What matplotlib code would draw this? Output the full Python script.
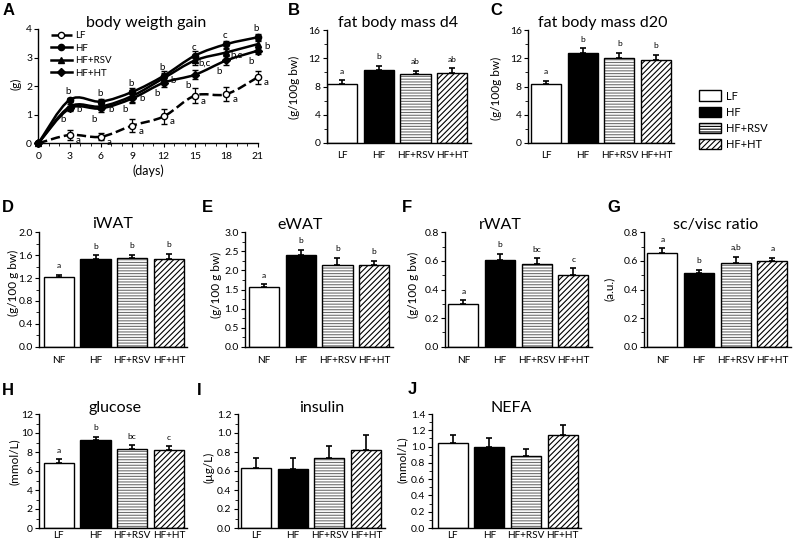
import matplotlib
matplotlib.use('Agg')
import matplotlib.pyplot as plt
import numpy as np
from matplotlib.path import Path
from matplotlib.patches import PathPatch, Patch
from matplotlib.lines import Line2D
from matplotlib.ticker import MultipleLocator, FormatStrFormatter

plt.rcParams['font.family'] = ['Lato', 'DejaVu Sans']
plt.rcParams['hatch.linewidth'] = 0.8

# ---------------- data ----------------
days = [0, 3, 6, 9, 12, 15, 18, 21]
gain_lf = [0, 0.29, 0.23, 0.62, 0.94, 1.67, 1.72, 2.31]
gain_lf_err = [0, 0.17, 0.13, 0.22, 0.26, 0.26, 0.25, 0.22]
gain_hf = [0, 1.52, 1.46, 1.80, 2.36, 3.07, 3.47, 3.71]
gain_hf_err = [0, 0.08, 0.10, 0.14, 0.16, 0.15, 0.12, 0.10]
gain_rsv = [0, 1.28, 1.29, 1.66, 2.28, 2.90, 3.18, 3.47]
gain_rsv_err = [0, 0.10, 0.12, 0.20, 0.18, 0.15, 0.13, 0.10]
gain_ht = [0, 1.22, 1.22, 1.57, 2.12, 2.40, 2.90, 3.24]
gain_ht_err = [0, 0.10, 0.12, 0.15, 0.16, 0.15, 0.15, 0.10]
let_lf = ['', 'a', 'a', 'a', 'a', 'a', 'a', 'a']
let_hf = ['', 'b', 'b', 'b', 'b', 'c', 'c', 'b']
let_rsv = ['', 'b', 'b', 'b', 'b', 'b,c', 'b,c', 'b']
let_ht = ['', 'b', 'b', 'b', 'b', 'b', 'b', 'b']

cats_lf = ['LF', 'HF', 'HF+RSV', 'HF+HT']
cats_nf = ['NF', 'HF', 'HF+RSV', 'HF+HT']

fat_d4 = [8.3, 10.4, 9.7, 9.9]
fat_d4_err = [0.6, 0.5, 0.5, 0.7]
fat_d4_let = ['a', 'b', 'ab', 'ab']
fat_d20 = [8.4, 12.8, 12.1, 11.8]
fat_d20_err = [0.4, 0.6, 0.7, 0.7]
fat_d20_let = ['a', 'b', 'b', 'b']
iwat = [1.21, 1.53, 1.55, 1.54]
iwat_err = [0.05, 0.07, 0.06, 0.08]
iwat_let = ['a', 'b', 'b', 'b']
ewat = [1.56, 2.40, 2.15, 2.13]
ewat_err = [0.08, 0.14, 0.18, 0.13]
ewat_let = ['a', 'b', 'b', 'b']
rwat = [0.30, 0.607, 0.576, 0.50]
rwat_err = [0.024, 0.042, 0.042, 0.048]
rwat_let = ['a', 'b', 'bc', 'c']
scv = [0.658, 0.518, 0.588, 0.597]
scv_err = [0.030, 0.018, 0.039, 0.026]
scv_let = ['a', 'b', 'a,b', 'a']
glucose = [6.8, 9.25, 8.35, 8.25]
glucose_err = [0.42, 0.38, 0.38, 0.35]
glucose_let = ['a', 'b', 'bc', 'c']
insulin = [0.633, 0.623, 0.742, 0.826]
insulin_err = [0.109, 0.119, 0.119, 0.154]
insulin_let = ['', '', '', '']
nefa = [1.05, 1.00, 0.888, 1.142]
nefa_err = [0.098, 0.110, 0.078, 0.127]
nefa_let = ['', '', '', '']

# ---------------- figure ----------------
W, H = 793, 543
fig = plt.figure(figsize=(W / 100, H / 100), dpi=100)

TICK_FS = 7.5
XTICK_FS = 7.2
YLAB_FS = 8.5


def ax_px(l, t, r, b):
    return fig.add_axes([l / W, 1 - b / H, (r - l) / W, (b - t) / H])


def ftext(x, y, s, **kw):
    return fig.text(x / W, 1 - y / H, s, **kw)


def panel_letter(x, y, s):
    ftext(x, y, s, fontsize=12, fontweight='bold', family=['Liberation Sans', 'DejaVu Sans'], va='baseline', ha='left')


def style_axes(ax):
    for s in ['top', 'right']:
        ax.spines[s].set_visible(False)
    for s in ['left', 'bottom']:
        ax.spines[s].set_linewidth(1.0)
    ax.tick_params(axis='y', which='major', direction='out', length=3, width=0.8, labelsize=TICK_FS, pad=1.5)
    ax.tick_params(axis='y', which='minor', direction='out', length=2, width=0.6)


# ---------------- panel A ----------------
def smooth_path(xs, ys):
    xs = np.asarray(xs, float)
    ys = np.asarray(ys, float)
    n = len(xs)
    verts = [(xs[0], ys[0])]
    codes = [Path.MOVETO]
    for i in range(n - 1):
        i0 = max(i - 1, 0)
        i3 = min(i + 2, n - 1)
        c1 = (xs[i] + (xs[i + 1] - xs[i0]) / 6, ys[i] + (ys[i + 1] - ys[i0]) / 6)
        c2 = (xs[i + 1] - (xs[i3] - xs[i]) / 6, ys[i + 1] - (ys[i3] - ys[i]) / 6)
        verts += [c1, c2, (xs[i + 1], ys[i + 1])]
        codes += [Path.CURVE4] * 3
    return Path(verts, codes)


axA = ax_px(38.3, 29, 257.7, 143.3)
style_axes(axA)
axA.set_xlim(0, 21)
axA.set_ylim(0, 4)
axA.xaxis.set_major_locator(MultipleLocator(3))
axA.xaxis.set_minor_locator(MultipleLocator(1))
axA.yaxis.set_major_locator(MultipleLocator(1))
axA.tick_params(axis='x', which='major', direction='out', length=3, width=0.8, labelsize=TICK_FS, pad=3)
axA.tick_params(axis='x', which='minor', direction='out', length=2, width=0.6)

series = [
    ('LF', gain_lf, gain_lf_err, 'o', 'white', '--', let_lf),
    ('HF', gain_hf, gain_hf_err, 'o', 'black', '-', let_hf),
    ('HF+RSV', gain_rsv, gain_rsv_err, '^', 'black', '-', let_rsv),
    ('HF+HT', gain_ht, gain_ht_err, 'D', 'black', '-', let_ht),
]
handles = []
for name, vals, errs, mk, mfc, ls, lets in series:
    pp = PathPatch(smooth_path(days, vals), fill=False, lw=1.8, ls=ls, edgecolor='black', zorder=2)
    axA.add_patch(pp)
    ms = 4.5 if mk != 'D' else 3.8
    axA.errorbar(days, vals, yerr=errs, fmt=mk, ms=ms, mfc=mfc, mec='black', mew=1.0,
                 ecolor='black', elinewidth=0.9, capsize=2, capthick=0.9, zorder=3, clip_on=False)
    handles.append(Line2D([0], [0], color='black', lw=1.8, ls=ls, marker=mk, ms=ms, mfc=mfc, mec='black'))

offsets = {'LF': (6, -4), 'HF': (-1, 6), 'HF+RSV': (7, -2), 'HF+HT': (-5, -8)}
for name, vals, errs, mk, mfc, ls, lets in series:
    dx, dy = offsets[name]
    for d, v, l in zip(days, vals, lets):
        if l:
            axA.annotate(l, (d, v), xytext=(dx, dy), textcoords='offset points',
                         ha='center', va='center', fontsize=7)

axA.legend(handles, [s[0] for s in series], loc='upper left', bbox_to_anchor=(0.03, 1.03),
           frameon=False, fontsize=7, handlelength=2.2, labelspacing=0.35, handletextpad=0.3,
           borderaxespad=0.2)
ftext(148, 171, '(days)', fontsize=9, ha='center', va='center')
ftext(16, 84, '(g)', fontsize=YLAB_FS, ha='center', va='center', rotation=90)
ftext(146, 26.5, 'body weigth gain', fontsize=11.5, ha='center', va='baseline')
panel_letter(3, 15, 'A')


# ---------------- bar panels ----------------
UNIT = 36.7


def bar_panel(axis_x, y0, ytop, ymax, major, fmt, vals, errs, lets, cats, pad=0.5, xpad=4):
    right = axis_x + (pad + 3.5) * UNIT
    ax = ax_px(axis_x, ytop, right, y0)
    style_axes(ax)
    x = np.arange(len(vals))
    ax.set_xlim(-pad, 3.5)
    ax.set_ylim(0, ymax)
    ax.yaxis.set_major_locator(MultipleLocator(major))
    ax.yaxis.set_minor_locator(MultipleLocator(major / 2))
    ax.yaxis.set_major_formatter(FormatStrFormatter(fmt))
    w = 0.82
    ax.bar(x[0], vals[0], w, color='white', edgecolor='black', lw=1.0, zorder=2)
    ax.bar(x[1], vals[1], w, color='black', edgecolor='black', lw=1.0, zorder=2)
    ax.bar(x[2], vals[2], w, color='white', edgecolor='#707070', lw=0, hatch='------', zorder=2)
    ax.bar(x[2], vals[2], w, fill=False, edgecolor='black', lw=1.0, zorder=2)
    ax.bar(x[3], vals[3], w, color='white', edgecolor='black', lw=1.0, hatch='//////', zorder=2)
    ax.errorbar(x, vals, yerr=[np.zeros(len(vals)), errs], fmt='none', ecolor='black',
                elinewidth=1.2, capsize=2.5, capthick=1.2, zorder=3)
    for xi, v, e, l in zip(x, vals, errs, lets):
        if l:
            ax.annotate(l, (xi, v + e), xytext=(0, 4), textcoords='offset points',
                        ha='center', va='bottom', fontsize=6)
    ax.set_xticks(x)
    ax.set_xticklabels(cats)
    ax.tick_params(axis='x', length=0, labelsize=XTICK_FS, pad=xpad)
    return ax


# B
bar_panel(326.7, 143, 30, 16, 4, '%d', fat_d4, fat_d4_err, fat_d4_let, cats_lf, pad=0.42, xpad=6)
ftext(398, 26.5, 'fat body mass d4', fontsize=11.5, ha='center', va='baseline')
ftext(294, 87, '(g/100g bw)', fontsize=YLAB_FS, ha='center', va='center', rotation=90)
panel_letter(288, 15, 'B')
# C
bar_panel(528, 143, 30, 16, 4, '%d', fat_d20, fat_d20_err, fat_d20_let, cats_lf, pad=0.49, xpad=6)
ftext(603, 26.5, 'fat body mass d20', fontsize=11.5, ha='center', va='baseline')
ftext(496, 88, '(g/100g bw)', fontsize=YLAB_FS, ha='center', va='center', rotation=90)
panel_letter(490, 15, 'C')

# legend
leg_handles = [Patch(facecolor='white', edgecolor='black'),
               Patch(facecolor='black', edgecolor='black'),
               Patch(facecolor='white', edgecolor='black', hatch='------'),
               Patch(facecolor='white', edgecolor='black', hatch='//////')]
fig.legend(leg_handles, cats_lf, loc='upper left', bbox_to_anchor=(695 / W, 1 - 86 / H),
           frameon=False, fontsize=8, handlelength=1.9, handleheight=1.1, labelspacing=0.45,
           handletextpad=0.5, borderaxespad=0)

# D
bar_panel(39, 346.7, 232.3, 2.0, 0.4, '%.1f', iwat, iwat_err, iwat_let, cats_nf, pad=0.54, xpad=7)
ftext(113, 228.5, 'iWAT', fontsize=11.5, ha='center', va='baseline')
ftext(13, 283, '(g/100 g bw)', fontsize=YLAB_FS, ha='center', va='center', rotation=90)
panel_letter(2, 212.3, 'D')
# E
bar_panel(245, 346.7, 232.3, 3.0, 0.5, '%.1f', ewat, ewat_err, ewat_let, cats_nf, pad=0.52, xpad=7)
ftext(300, 229, 'eWAT', fontsize=11.5, ha='center', va='baseline')
ftext(216, 285, '(g/100 g bw)', fontsize=YLAB_FS, ha='center', va='center', rotation=90)
panel_letter(202, 212.3, 'E')
# F
bar_panel(445, 346.7, 232.3, 0.8, 0.2, '%.1f', rwat, rwat_err, rwat_let, cats_nf, pad=0.5, xpad=7)
ftext(500, 229, 'rWAT', fontsize=11.5, ha='center', va='baseline')
ftext(413, 285, '(g/100 g bw)', fontsize=YLAB_FS, ha='center', va='center', rotation=90)
panel_letter(402, 212.3, 'F')
# G
bar_panel(644, 346.7, 232.3, 0.8, 0.2, '%.1f', scv, scv_err, scv_let, cats_nf, pad=0.5, xpad=7)
ftext(716, 229.5, 'sc/visc ratio', fontsize=11.5, ha='center', va='baseline')
ftext(609, 289, '(a.u.)', fontsize=YLAB_FS, ha='center', va='center', rotation=90)
panel_letter(607, 212.3, 'G')

# H
bar_panel(39, 528, 414, 12, 2, '%d', glucose, glucose_err, glucose_let, cats_lf, pad=0.54, xpad=2)
ftext(115, 411.7, 'glucose', fontsize=11.5, ha='center', va='baseline')
ftext(14, 462, '(mmol/L)', fontsize=YLAB_FS, ha='center', va='center', rotation=90)
panel_letter(2, 395, 'H')
# I
bar_panel(237.7, 528, 414, 1.2, 0.2, '%.1f', insulin, insulin_err, insulin_let, cats_lf, pad=0.5, xpad=2)
ftext(322, 411.7, 'insulin', fontsize=11.5, ha='center', va='baseline')
ftext(209, 467, '(µg/L)', fontsize=YLAB_FS, ha='center', va='center', rotation=90)
panel_letter(197, 395, 'I')
# J
bar_panel(431.7, 528, 414, 1.4, 0.2, '%.1f', nefa, nefa_err, nefa_let, cats_lf, pad=0.57, xpad=2)
ftext(511, 411.7, 'NEFA', fontsize=11.5, ha='center', va='baseline')
ftext(402, 460, '(mmol/L)', fontsize=YLAB_FS, ha='center', va='center', rotation=90)
panel_letter(408, 394.3, 'J')

fig.savefig('out.png', dpi=100)
